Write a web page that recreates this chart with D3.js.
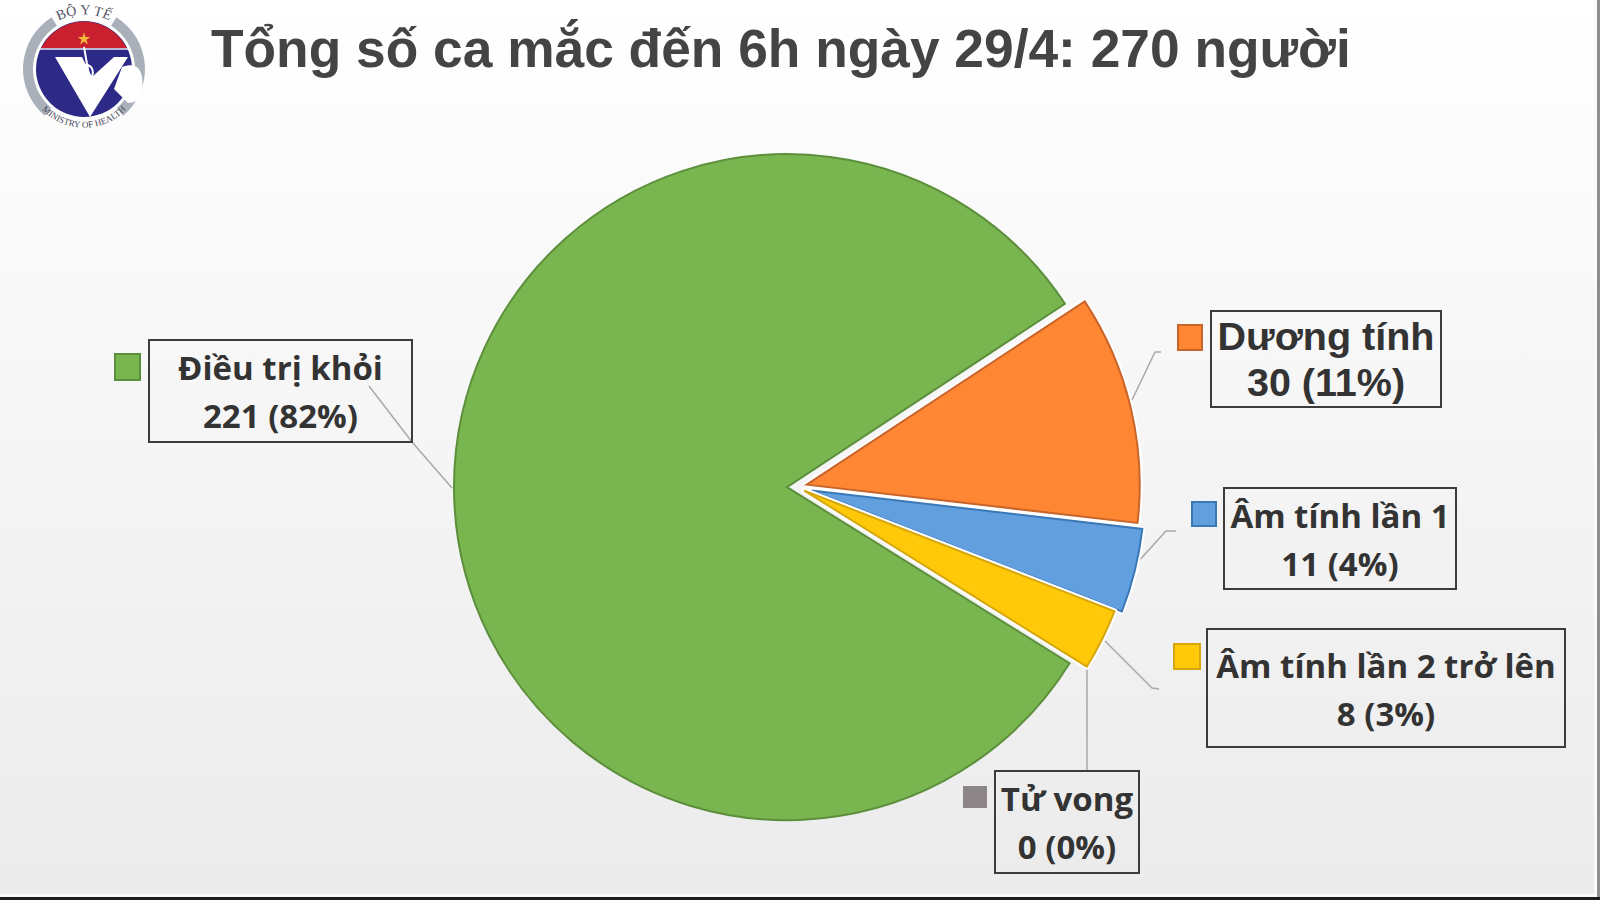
<!DOCTYPE html>
<html>
<head>
<meta charset="utf-8">
<script src="https://cdn.jsdelivr.net/npm/d3@7"></script>
<style>
  body { margin: 0; background: #fff; }
  svg { display: block; }
  text { font-family: "Open Sans", "Noto Sans", sans-serif; }
</style>
</head>
<body>
<div id="chart"></div>
<script>
const titleText = "Tổng số ca mắc đến 6h ngày 29/4: 270 người"

// pie order, clockwise from the orange slice
const categories = ["Dương tính", "Âm tính lần 1", "Âm tính lần 2 trở lên", "Tử vong", "Điều trị khỏi"]
const values = [30, 11, 8, 0, 221]

const WIDTH = 1600
const HEIGHT = 900
const CENTER = { x: 797, y: 487 }
const RADIUS = 333
const START_ANGLE = 56.6 * Math.PI / 180

const color = d3.scaleOrdinal()
  .domain(categories)
  .range(["#ff8633", "#629fdf", "#ffc90a", "#8c8688", "#7ab64f"])
const stroke = d3.scaleOrdinal()
  .domain(categories)
  .range(["#c9642a", "#3b78b8", "#d6a70c", "#8c8688", "#5c8f3c"])
const explode = d3.scaleOrdinal()
  .domain(categories)
  .range([10, 15, 8, 0, 10])

// label boxes, leader lines and legend squares
const layout = {
  "Dương tính": { box: [1211, 311, 230, 96], key: [1178, 325, 24, 25], base: [350, 396], size: 39.5, font: "'Liberation Sans', Arial, sans-serif", line: [[1132, 400], [1155, 352], [1161, 352]] },
  "Âm tính lần 1": { box: [1224, 488, 232, 101], key: [1192, 502, 24, 24], base: [528, 576], size: 33, line: [[1136, 564], [1166, 531], [1176, 531]] },
  "Âm tính lần 2 trở lên": { box: [1207, 629, 358, 118], key: [1174, 644, 26, 25], base: [678, 726], size: 33, line: [[1105, 641], [1152, 688], [1159, 689]] },
  "Tử vong": { box: [995, 771, 144, 102], key: [964, 787, 22, 20], base: [811, 859], size: 33, line: [[1087, 667], [1087, 771]] },
  "Điều trị khỏi": { box: [149, 340, 263, 102], key: [115, 354, 25, 26], base: [380, 428], size: 33, line: [[452, 488], [412, 442], [369, 386]] }
}

const svg = d3.select("#chart").append("svg")
  .attr("width", WIDTH)
  .attr("height", HEIGHT)

const grad = svg.append("defs").append("linearGradient")
  .attr("id", "bg")
  .attr("x1", 0).attr("y1", 0).attr("x2", 0).attr("y2", 1)
grad.append("stop").attr("offset", "0%").attr("stop-color", "#ffffff")
grad.append("stop").attr("offset", "45%").attr("stop-color", "#f6f6f6")
grad.append("stop").attr("offset", "100%").attr("stop-color", "#ebebeb")

svg.append("rect")
  .attr("width", WIDTH)
  .attr("height", HEIGHT)
  .attr("fill", "url(#bg)")

// frame of the screenshot: white inner line, dark bottom, grey right
svg.append("rect").attr("x", 1594).attr("width", 3).attr("height", 897).attr("fill", "#fafafa")
svg.append("rect").attr("y", 894).attr("width", 1597).attr("height", 3).attr("fill", "#fafafa")
svg.append("rect").attr("x", 1597).attr("width", 3).attr("height", HEIGHT).attr("fill", "#8f8f8f")
svg.append("rect").attr("y", 897).attr("width", WIDTH).attr("height", 3).attr("fill", "#1c1c1c")

// title
svg.append("text")
  .attr("x", 211)
  .attr("y", 67)
  .attr("font-size", 53.3)
  .style("font-family", "'Liberation Sans', Arial, sans-serif")
  .attr("font-weight", 700)
  .attr("fill", "#444444")
  .text(titleText)

drawLogo(svg.append("g").attr("transform", "translate(84,69)"))

// leader lines go under the pie
const lineGen = d3.line()
svg.append("g").selectAll("path")
  .data(categories)
  .enter().append("path")
  .attr("d", d => lineGen(layout[d].line))
  .attr("fill", "none")
  .attr("stroke", "#a9a9a9")
  .attr("stroke-width", 1.5)

const pie = d3.pie()
  .sort(null)
  .startAngle(START_ANGLE)
  .endAngle(START_ANGLE + 2 * Math.PI)
  .value(d => d.value)

const pieData = pie(categories.map((c, i) => ({ name: c, value: values[i] })))

const arc = d3.arc()
  .innerRadius(0)
  .outerRadius(RADIUS)

const slices = svg.append("g")
  .attr("transform", `translate(${CENTER.x},${CENTER.y})`)
  .selectAll("g")
  .data(pieData.filter(d => d.value > 0))
  .enter().append("g")
  .attr("transform", d => {
    const mid = (d.startAngle + d.endAngle) / 2
    const e = explode(d.data.name)
    return `translate(${e * Math.sin(mid)},${-e * Math.cos(mid)})`
  })

// white halo, shows in the gaps between slices
slices.filter(d => d.data.name !== "Điều trị khỏi").append("path")
  .attr("d", arc)
  .attr("fill", "none")
  .attr("stroke", "#ffffff")
  .attr("stroke-width", 6)
  .attr("stroke-linejoin", "round")

slices.append("path")
  .attr("d", arc)
  .attr("fill", d => color(d.data.name))
  .attr("stroke", d => stroke(d.data.name))
  .attr("stroke-width", 2)

// label boxes
const labels = svg.append("g").selectAll("g")
  .data(categories)
  .enter().append("g")

labels.append("rect")
  .attr("x", d => layout[d].box[0])
  .attr("y", d => layout[d].box[1])
  .attr("width", d => layout[d].box[2])
  .attr("height", d => layout[d].box[3])
  .attr("fill", "none")
  .attr("stroke", "#3c3c3c")
  .attr("stroke-width", 2)

labels.append("rect")
  .attr("x", d => layout[d].key[0])
  .attr("y", d => layout[d].key[1])
  .attr("width", d => layout[d].key[2])
  .attr("height", d => layout[d].key[3])
  .attr("fill", d => color(d))
  .attr("stroke", d => stroke(d))
  .attr("stroke-width", 2)

labels.append("text")
  .attr("x", d => layout[d].box[0] + layout[d].box[2] / 2)
  .attr("y", d => layout[d].base[0])
  .attr("text-anchor", "middle")
  .attr("font-size", d => layout[d].size)
  .style("font-family", d => layout[d].font || null)
  .attr("font-weight", 700)
  .attr("fill", "#333333")
  .text(d => d)

labels.append("text")
  .attr("x", d => layout[d].box[0] + layout[d].box[2] / 2)
  .attr("y", d => layout[d].base[1])
  .attr("text-anchor", "middle")
  .attr("font-size", d => layout[d].size)
  .style("font-family", d => layout[d].font || null)
  .attr("font-weight", 700)
  .attr("fill", "#333333")
  .text(d => {
    const v = values[categories.indexOf(d)]
    return `${v} (${Math.round(v / d3.sum(values) * 100)}%)`
  })

function drawLogo(g) {
  const ring = d3.arc().innerRadius(51).outerRadius(61)
  const ringParts = [[-140, -32], [32, 140]]
  g.selectAll("path.ring")
    .data(ringParts)
    .enter().append("path")
    .attr("class", "ring")
    .attr("d", d => ring({ startAngle: d[0] * Math.PI / 180, endAngle: d[1] * Math.PI / 180 }))
    .attr("fill", "#a9b0ba")

  g.append("circle").attr("r", 48).attr("fill", "#2c2a86")

  // red band across the top of the circle
  g.append("path")
    .attr("d", "M-37,-30 A48,48 0 0 1 37,-30 L43,-21 L-43,-21 Z")
    .attr("fill", "#c8202f")
  g.append("line")
    .attr("x1", -44).attr("x2", 44)
    .attr("y1", -20).attr("y2", -20)
    .attr("stroke", "#e8e8f0")
    .attr("stroke-width", 1.5)
  g.append("path")
    .attr("d", d3.symbol().type(d3.symbolStar).size(50))
    .attr("transform", "translate(0,-30)")
    .attr("fill", "#f4b63c")

  // V mark and staff
  g.append("path")
    .attr("d", "M-29,-12 L-2,-12 L8,8 L30,-12 L44,-12 L6,48 Z")
    .attr("fill", "#ffffff")
  g.append("path")
    .attr("d", "M0,-22 L6,12 M-2,-4 C10,-6 12,6 4,12")
    .attr("fill", "none")
    .attr("stroke", "#ffffff")
    .attr("stroke-width", 2)

  // watermark wiping out the right of the logo
  g.append("path")
    .attr("d", "M38,-2 C48,-6 56,-4 58,8 C60,22 56,34 44,34 L30,20 Z")
    .attr("fill", "#ffffff")

  const defs = g.append("defs")
  defs.append("path").attr("id", "logoTop").attr("d", "M-44,-32 A54,54 0 0 1 44,-32")
  defs.append("path").attr("id", "logoBottom").attr("d", "M-46,36 A58,58 0 0 0 46,36")
  g.append("text")
    .attr("font-size", 14)
    .style("font-family", "'Liberation Serif', serif")
    .attr("fill", "#555566")
    .append("textPath")
    .attr("href", "#logoTop")
    .attr("startOffset", "50%")
    .attr("text-anchor", "middle")
    .text("BỘ Y TẾ")
  g.append("text")
    .attr("font-size", 9)
    .style("font-family", "'Liberation Serif', serif")
    .attr("fill", "#444455")
    .append("textPath")
    .attr("href", "#logoBottom")
    .attr("startOffset", "50%")
    .attr("text-anchor", "middle")
    .text("MINISTRY OF HEALTH")
}
</script>
</body>
</html>
